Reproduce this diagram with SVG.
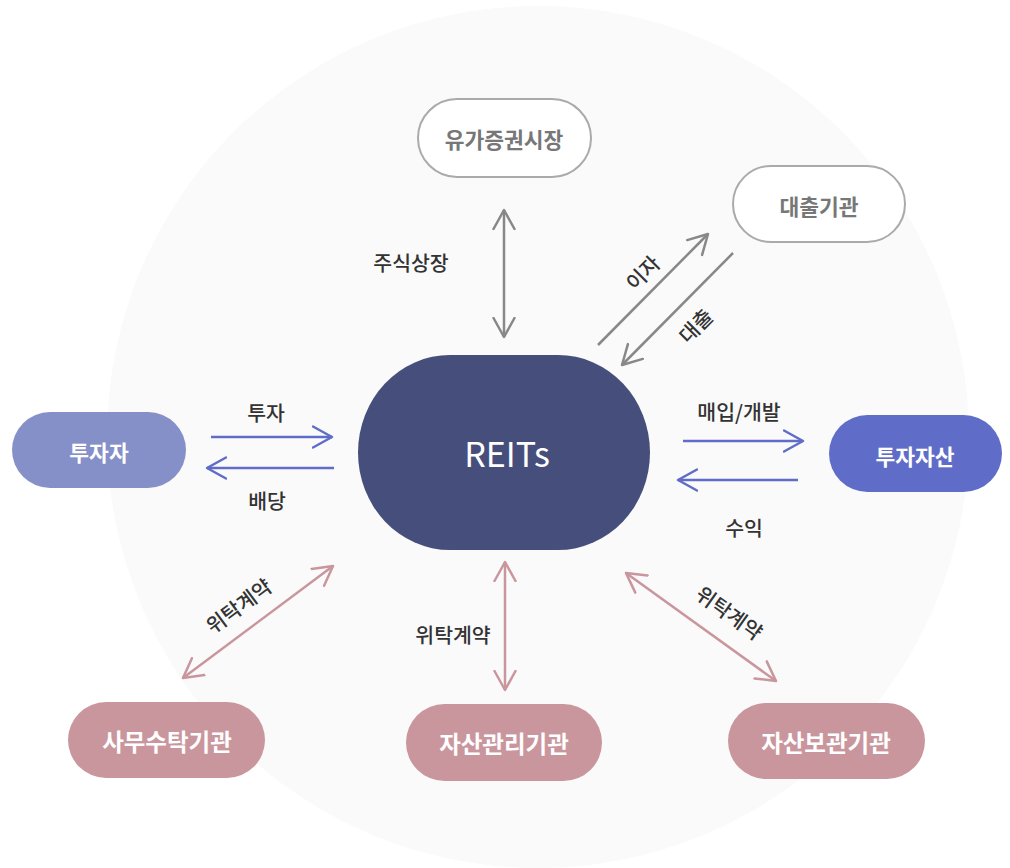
<svg xmlns="http://www.w3.org/2000/svg" width="1010" height="868" viewBox="0 0 1010 868">
<style>
text{font-family:"Noto Sans CJK KR","Noto Sans",sans-serif;text-anchor:middle;dominant-baseline:central}
.lbl{font-size:20.5px;font-weight:500;fill:#333}
.nt{font-size:21.5px;font-weight:700;fill:#fff}
.nt22{font-size:23.5px;font-weight:700;fill:#fff}
.gt{font-size:21.5px;font-weight:700;fill:#777}
.ln{fill:none;stroke-width:2.5}
.g{stroke:#888}
.b{stroke:#5f6dc8}
.p{stroke:#c9969e}
</style>
<defs>
<marker id="ag" viewBox="0 -12 24 24" refX="20" refY="0" markerWidth="24" markerHeight="24" markerUnits="userSpaceOnUse" orient="auto-start-reverse"><path d="M1,-10.5 L20,0 L1,10.5" fill="none" stroke="#888" stroke-width="2.5" stroke-linecap="round" stroke-linejoin="round"/></marker>
<marker id="ab" viewBox="0 -12 24 24" refX="20" refY="0" markerWidth="24" markerHeight="24" markerUnits="userSpaceOnUse" orient="auto-start-reverse"><path d="M1,-10.5 L20,0 L1,10.5" fill="none" stroke="#5f6dc8" stroke-width="2.5" stroke-linecap="round" stroke-linejoin="round"/></marker>
<marker id="ap" viewBox="0 -12 24 24" refX="20" refY="0" markerWidth="24" markerHeight="24" markerUnits="userSpaceOnUse" orient="auto-start-reverse"><path d="M1,-10.5 L20,0 L1,10.5" fill="none" stroke="#c9969e" stroke-width="2.5" stroke-linecap="round" stroke-linejoin="round"/></marker>
</defs>
<rect width="1010" height="868" fill="#fff"/>
<circle cx="538" cy="437" r="431" fill="#fafafa"/>
<g id="connectors">
<line class="ln g" x1="504" y1="210" x2="504" y2="337" marker-start="url(#ag)" marker-end="url(#ag)"/>
<line class="ln g" x1="598" y1="345" x2="708" y2="234" marker-end="url(#ag)"/>
<line class="ln g" x1="733" y1="253" x2="622" y2="365" marker-end="url(#ag)"/>
<line class="ln b" x1="211" y1="437" x2="332" y2="437" marker-end="url(#ab)"/>
<line class="ln b" x1="334" y1="468" x2="207" y2="468" marker-end="url(#ab)"/>
<line class="ln b" x1="683" y1="441" x2="803" y2="441" marker-end="url(#ab)"/>
<line class="ln b" x1="798" y1="480" x2="678" y2="480" marker-end="url(#ab)"/>
<line class="ln p" x1="333" y1="566" x2="183" y2="678" marker-start="url(#ap)" marker-end="url(#ap)"/>
<line class="ln p" x1="505" y1="562" x2="505" y2="690" marker-start="url(#ap)" marker-end="url(#ap)"/>
<line class="ln p" x1="626" y1="573" x2="776" y2="681" marker-start="url(#ap)" marker-end="url(#ap)"/>
<text class="lbl" x="411" y="262">주식상장</text>
<text class="lbl" transform="translate(642 272) rotate(-45)">이자</text>
<text class="lbl" transform="translate(695 325) rotate(-45)">대출</text>
<text class="lbl" x="266" y="412">투자</text>
<text class="lbl" x="267" y="500">배당</text>
<text class="lbl" x="739" y="411">매입/개발</text>
<text class="lbl" x="744" y="527">수익</text>
<text class="lbl" transform="translate(238 605) rotate(-36.7)">위탁계약</text>
<text class="lbl" x="453" y="634">위탁계약</text>
<text class="lbl" transform="translate(730 612) rotate(35.5)">위탁계약</text>
</g>
<g id="reits">
<rect x="358" y="355" width="292" height="195" rx="92" ry="97.5" fill="#464e7c"/>
<text x="507" y="452" style="font-size:34px;font-weight:400;fill:#fff">REITs</text>
</g>
<g id="market">
<rect x="418" y="99" width="173" height="78" rx="39" fill="#fff" stroke="#aaa" stroke-width="2"/>
<text class="gt" x="504" y="138">유가증권시장</text>
</g>
<g id="lender">
<rect x="733" y="166" width="172" height="76" rx="38" fill="#fff" stroke="#aaa" stroke-width="2"/>
<text class="gt" x="819" y="205">대출기관</text>
</g>
<g id="investor">
<rect x="12" y="412" width="174" height="76" rx="38" fill="#8590c8"/>
<text class="nt" x="99" y="451">투자자</text>
</g>
<g id="asset">
<rect x="829" y="415" width="173" height="77" rx="38.5" fill="#5f6dc8"/>
<text class="nt" x="915" y="455">투자자산</text>
</g>
<g id="admin">
<rect x="68" y="702" width="197" height="76" rx="38" fill="#c9969e"/>
<text class="nt22" x="167" y="741">사무수탁기관</text>
</g>
<g id="manager">
<rect x="406" y="704" width="196" height="77" rx="38.5" fill="#c9969e"/>
<text class="nt22" x="504" y="743">자산관리기관</text>
</g>
<g id="custodian">
<rect x="728" y="703" width="197" height="76" rx="38" fill="#c9969e"/>
<text class="nt22" x="826" y="742">자산보관기관</text>
</g>
</svg>
